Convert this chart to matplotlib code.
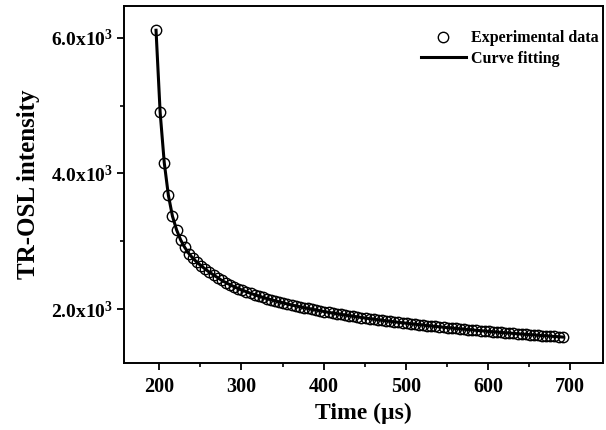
import matplotlib
matplotlib.use("Agg")
import matplotlib.pyplot as plt
from matplotlib.ticker import MultipleLocator, FixedLocator

plt.rcParams['font.family'] = 'Liberation Serif'
plt.rcParams['font.weight'] = 'bold'
plt.rcParams['mathtext.fontset'] = 'custom'
plt.rcParams['mathtext.rm'] = 'Liberation Serif:bold'
plt.rcParams['mathtext.it'] = 'Liberation Serif:bold'
plt.rcParams['mathtext.bf'] = 'Liberation Serif:bold'

# time (us), one point every 5 us
time_us = list(range(196, 692, 5))

# TR-OSL intensity
intensity = [
    6110, 4900, 4160, 3680, 3370, 3170, 3020, 2910, 2820, 2750,
    2690, 2640, 2590, 2545, 2505, 2465, 2425, 2392, 2361, 2332,
    2305, 2281, 2257, 2235, 2214, 2194, 2175, 2157, 2139, 2123,
    2107, 2092, 2077, 2063, 2049, 2036, 2023, 2011, 1999, 1987,
    1976, 1965, 1954, 1944, 1934, 1924, 1914, 1905, 1896, 1887,
    1878, 1870, 1861, 1853, 1845, 1837, 1829, 1822, 1814, 1807,
    1800, 1793, 1786, 1779, 1773, 1766, 1759, 1753, 1747, 1741,
    1735, 1729, 1723, 1717, 1711, 1705, 1700, 1695, 1689, 1684,
    1678, 1673, 1668, 1663, 1658, 1653, 1649, 1644, 1639, 1634,
    1630, 1625, 1621, 1616, 1612, 1608, 1603, 1599, 1595, 1590,
]

# fitted curve (follows the data)
fit_y = intensity

yticks = [2000, 4000, 6000]
ytick_labels = [r'2.0x10$^{3}$', r'4.0x10$^{3}$', r'6.0x10$^{3}$']

fig = plt.figure(figsize=(6.06, 4.30), dpi=100)
ax = fig.add_axes([0.2046, 0.156, 0.7904, 0.830])

ax.plot(time_us, intensity, 'o', mfc='none', mec='black', ms=7.5, mew=1.0,
        label='Experimental data')
ax.plot(time_us, fit_y, '-', color='black', lw=2.2, label='Curve fitting')

ax.set_xlim(157, 740)
ax.set_ylim(1209, 6467)
ax.xaxis.set_major_locator(MultipleLocator(100))
ax.xaxis.set_minor_locator(MultipleLocator(50))
ax.yaxis.set_major_locator(FixedLocator(yticks))
ax.yaxis.set_minor_locator(MultipleLocator(1000))
ax.set_yticklabels(ytick_labels)

ax.tick_params(axis='x', which='major', labelsize=14.5, length=5, width=1.3,
               direction='out', pad=5)
ax.tick_params(axis='y', which='major', labelsize=14, length=5, width=1.3,
               direction='out', pad=3)
ax.tick_params(which='minor', length=3, width=1.2, direction='out')
for s in ax.spines.values():
    s.set_linewidth(1.4)

ax.set_xlabel('Time (\u00b5s)', fontsize=17, fontweight='bold', labelpad=4)
ax.set_ylabel('TR-OSL intensity', fontsize=18, fontweight='bold', labelpad=8)

ax.legend(loc='upper right', bbox_to_anchor=(1.005, 0.95), frameon=False,
          fontsize=11.5, handlelength=2.8, handletextpad=0.35, labelspacing=0.3,
          borderaxespad=0)

fig.savefig('out.png', dpi=100)
